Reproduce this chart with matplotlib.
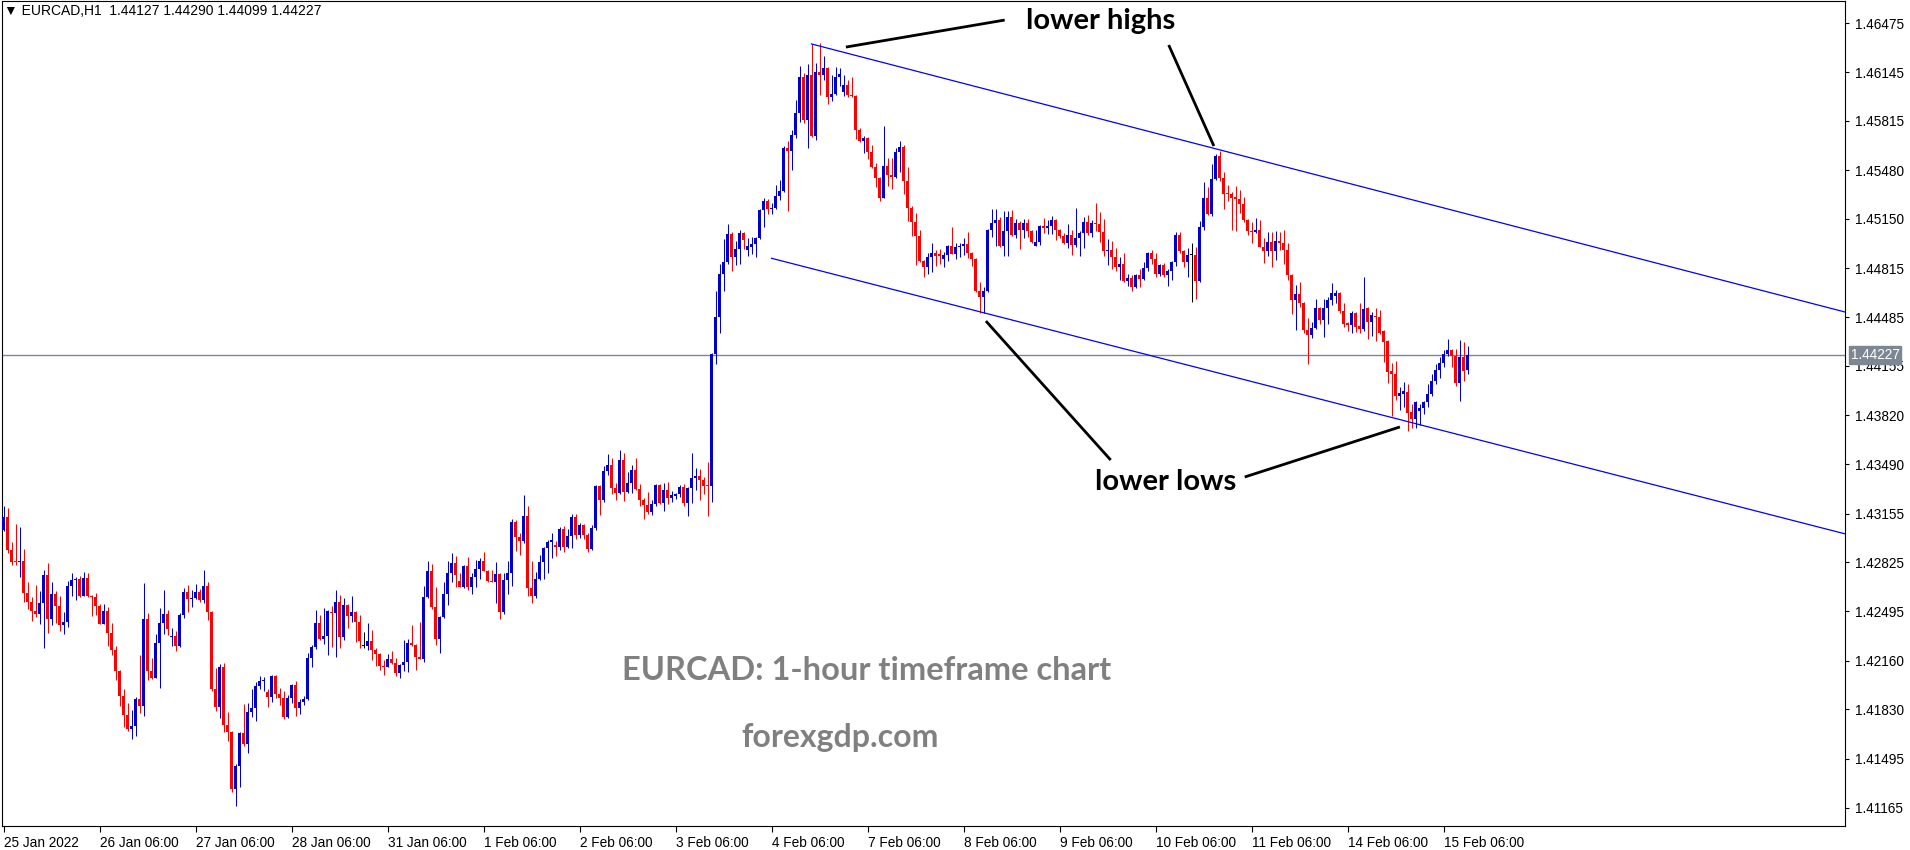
import matplotlib
matplotlib.use('Agg')
import matplotlib.pyplot as plt
import numpy as np

# EURCAD H1 candles, 25 Jan 2022 06:00 -> 15 Feb 2022 13:00
opens = [
    1.43045, 1.43135, 1.42909, 1.42835, 1.42828, 1.42832, 1.42620, 1.42559, 1.42498, 1.42478,
    1.42550, 1.42740, 1.42444, 1.42611, 1.42530, 1.42404, 1.42422, 1.42665, 1.42706, 1.42715,
    1.42600, 1.42722, 1.42600, 1.42593, 1.42532, 1.42410, 1.42496, 1.42349, 1.42234, 1.42092,
    1.41923, 1.41794, 1.41700, 1.41718, 1.41900, 1.41855, 1.42442, 1.42092, 1.42045, 1.42279,
    1.42415, 1.42476, 1.42320, 1.42327, 1.42259, 1.42469, 1.42625, 1.42577, 1.42584, 1.42625,
    1.42570, 1.42665, 1.42489, 1.41968, 1.41848, 1.42117, 1.41726, 1.41679, 1.41293, 1.41449,
    1.41672, 1.41598, 1.41814, 1.41842, 1.41990, 1.42024, 1.41950, 1.41916, 1.42058, 1.41936,
    1.41909, 1.41781, 1.41909, 1.41997, 1.41842, 1.41880, 1.41900, 1.42178, 1.42252, 1.42415,
    1.42309, 1.42327, 1.42490, 1.42482, 1.42557, 1.42322, 1.42536, 1.42464, 1.42489, 1.42424,
    1.42261, 1.42261, 1.42295, 1.42234, 1.42207, 1.42126, 1.42119, 1.42173, 1.42146, 1.42078,
    1.42133, 1.42153, 1.42282, 1.42268, 1.42187, 1.42173, 1.42591, 1.42767, 1.42525, 1.42309,
    1.42455, 1.42611, 1.42751, 1.42821, 1.42700, 1.42661, 1.42801, 1.42661, 1.42728, 1.42780,
    1.42834, 1.42769, 1.42701, 1.42694, 1.42749, 1.42491, 1.42706, 1.42755, 1.43098, 1.42997,
    1.42970, 1.43139, 1.42654, 1.42600, 1.42715, 1.42828, 1.42922, 1.42963, 1.42943, 1.42929,
    1.43053, 1.42929, 1.43004, 1.43132, 1.43010, 1.43078, 1.43010, 1.42916, 1.43058, 1.43342,
    1.43247, 1.43444, 1.43484, 1.43329, 1.43295, 1.43518, 1.43302, 1.43362, 1.43451, 1.43322,
    1.43247, 1.43213, 1.43166, 1.43220, 1.43349, 1.43227, 1.43315, 1.43261, 1.43275, 1.43285,
    1.43335, 1.43227, 1.43329, 1.43396, 1.43410, 1.43383, 1.43349, 1.43342, 1.44236, 1.44486,
    1.44778, 1.44859, 1.45048, 1.44893, 1.44947, 1.45055, 1.44942, 1.44962, 1.44983, 1.45023,
    1.45213, 1.45274, 1.45220, 1.45227, 1.45308, 1.45342, 1.45630, 1.45612, 1.45718, 1.45867,
    1.46111, 1.45820, 1.46125, 1.45714, 1.46145, 1.46125, 1.46172, 1.45976, 1.45996, 1.46111,
    1.46010, 1.46057, 1.45989, 1.45982, 1.45752, 1.45678, 1.45698, 1.45606, 1.45504, 1.45430,
    1.45294, 1.45511, 1.45450, 1.45436, 1.45603, 1.45637, 1.45409, 1.45226, 1.45132, 1.45037,
    1.44868, 1.44827, 1.44895, 1.44922, 1.44915, 1.44881, 1.44908, 1.44969, 1.44915, 1.44962,
    1.44969, 1.44983, 1.44922, 1.44881, 1.44665, 1.44624, 1.44665, 1.45078, 1.45125, 1.45145,
    1.44969, 1.45071, 1.45166, 1.45044, 1.45125, 1.45078, 1.45125, 1.45071, 1.44969, 1.44996,
    1.45102, 1.45089, 1.45102, 1.45143, 1.45075, 1.45035, 1.44987, 1.45041, 1.44974, 1.45021,
    1.45055, 1.45129, 1.45055, 1.45123, 1.45116, 1.45062, 1.44933, 1.44940, 1.44893, 1.44825,
    1.44845, 1.44730, 1.44750, 1.44689, 1.44771, 1.44744, 1.44818, 1.44920, 1.44879, 1.44777,
    1.44838, 1.44771, 1.44798, 1.44859, 1.45041, 1.44933, 1.44859, 1.44906, 1.44906, 1.44732,
    1.45096, 1.45292, 1.45184, 1.45421, 1.45576, 1.45427, 1.45326, 1.45319, 1.45299, 1.45285,
    1.45251, 1.45143, 1.45069, 1.45062, 1.45075, 1.44960, 1.44933, 1.44994, 1.44933, 1.45001,
    1.44987, 1.44940, 1.44773, 1.44604, 1.44644, 1.44583, 1.44401, 1.44367, 1.44414, 1.44549,
    1.44468, 1.44549, 1.44599, 1.44631, 1.44649, 1.44527, 1.44446, 1.44432, 1.44513, 1.44426,
    1.44405, 1.44547, 1.44452, 1.44493, 1.44486, 1.44391, 1.44324, 1.44121, 1.44100, 1.43954,
    1.43967, 1.43981, 1.43846, 1.43796, 1.43852, 1.43872, 1.43913, 1.43967, 1.44055, 1.44130,
    1.44177, 1.44238, 1.44265, 1.44224, 1.44042, 1.44218, 1.44127,
]
highs = [
    1.43207, 1.43193, 1.42963, 1.43085, 1.43065, 1.42916, 1.42692, 1.42593, 1.42672, 1.42632,
    1.42774, 1.42821, 1.42692, 1.42632, 1.42600, 1.42492, 1.42699, 1.42753, 1.42729, 1.42733,
    1.42760, 1.42753, 1.42604, 1.42618, 1.42545, 1.42544, 1.42523, 1.42413, 1.42259, 1.42097,
    1.41968, 1.41873, 1.41826, 1.41916, 1.42200, 1.42686, 1.42483, 1.42178, 1.42340, 1.42516,
    1.42638, 1.42503, 1.42381, 1.42361, 1.42482, 1.42652, 1.42672, 1.42638, 1.42679, 1.42645,
    1.42774, 1.42692, 1.42496, 1.42110, 1.42137, 1.42144, 1.41812, 1.41685, 1.41462, 1.41679,
    1.41869, 1.41875, 1.41970, 1.42018, 1.42058, 1.42051, 1.41970, 1.42065, 1.42065, 1.41977,
    1.41957, 1.41930, 1.42000, 1.42024, 1.41900, 1.41920, 1.42209, 1.42264, 1.42503, 1.42469,
    1.42516, 1.42503, 1.42530, 1.42638, 1.42604, 1.42584, 1.42543, 1.42597, 1.42495, 1.42469,
    1.42354, 1.42415, 1.42367, 1.42248, 1.42214, 1.42166, 1.42207, 1.42227, 1.42180, 1.42139,
    1.42302, 1.42309, 1.42403, 1.42275, 1.42424, 1.42665, 1.42834, 1.42814, 1.42658, 1.42460,
    1.42692, 1.42834, 1.42889, 1.42868, 1.42755, 1.42807, 1.42861, 1.42755, 1.42841, 1.42855,
    1.42895, 1.42775, 1.42775, 1.42828, 1.42755, 1.42755, 1.42837, 1.43119, 1.43112, 1.43024,
    1.43281, 1.43207, 1.42834, 1.42760, 1.42875, 1.42929, 1.42977, 1.43024, 1.42970, 1.43065,
    1.43071, 1.43051, 1.43153, 1.43153, 1.43092, 1.43085, 1.43024, 1.43078, 1.43349, 1.43349,
    1.43478, 1.43559, 1.43532, 1.43362, 1.43586, 1.43566, 1.43437, 1.43484, 1.43532, 1.43356,
    1.43261, 1.43302, 1.43247, 1.43356, 1.43356, 1.43362, 1.43369, 1.43308, 1.43295, 1.43349,
    1.43356, 1.43335, 1.43566, 1.43464, 1.43457, 1.43403, 1.43505, 1.44240, 1.44662, 1.44845,
    1.45014, 1.45116, 1.45062, 1.45001, 1.45075, 1.45064, 1.45023, 1.45030, 1.45030, 1.45220,
    1.45294, 1.45287, 1.45260, 1.45382, 1.45416, 1.45644, 1.45678, 1.45752, 1.45955, 1.46186,
    1.46138, 1.46199, 1.46334, 1.46206, 1.46341, 1.46253, 1.46179, 1.46125, 1.46179, 1.46172,
    1.46125, 1.46091, 1.46111, 1.45990, 1.45766, 1.45712, 1.45705, 1.45651, 1.45529, 1.45435,
    1.45779, 1.45565, 1.45565, 1.45633, 1.45678, 1.45651, 1.45502, 1.45238, 1.45190, 1.45078,
    1.44875, 1.44922, 1.44987, 1.44942, 1.44949, 1.44929, 1.44976, 1.45096, 1.44990, 1.44990,
    1.45024, 1.45064, 1.44929, 1.44888, 1.44726, 1.44692, 1.45084, 1.45220, 1.45220, 1.45166,
    1.45206, 1.45206, 1.45213, 1.45152, 1.45138, 1.45152, 1.45152, 1.45078, 1.45078, 1.45109,
    1.45157, 1.45143, 1.45170, 1.45150, 1.45082, 1.45055, 1.45116, 1.45075, 1.45224, 1.45068,
    1.45163, 1.45177, 1.45143, 1.45258, 1.45197, 1.45150, 1.45014, 1.45001, 1.44953, 1.44893,
    1.44919, 1.44777, 1.44771, 1.44777, 1.44811, 1.44859, 1.44926, 1.44940, 1.44919, 1.44845,
    1.44852, 1.44811, 1.44864, 1.45062, 1.45062, 1.44940, 1.44953, 1.44987, 1.44960, 1.45136,
    1.45400, 1.45366, 1.45522, 1.45590, 1.45610, 1.45468, 1.45380, 1.45333, 1.45373, 1.45346,
    1.45299, 1.45148, 1.45129, 1.45157, 1.45143, 1.45021, 1.45062, 1.45062, 1.45069, 1.45062,
    1.45075, 1.44987, 1.44777, 1.44705, 1.44726, 1.44590, 1.44482, 1.44455, 1.44610, 1.44556,
    1.44610, 1.44620, 1.44714, 1.44669, 1.44655, 1.44581, 1.44450, 1.44527, 1.44520, 1.44581,
    1.44757, 1.44554, 1.44520, 1.44547, 1.44534, 1.44395, 1.44328, 1.44175, 1.44189, 1.44015,
    1.44049, 1.44035, 1.43900, 1.43920, 1.43900, 1.43920, 1.44035, 1.44103, 1.44170, 1.44218,
    1.44265, 1.44340, 1.44270, 1.44270, 1.44331, 1.44319, 1.44290,
]
lows = [
    1.43040, 1.42891, 1.42810, 1.42810, 1.42729, 1.42559, 1.42512, 1.42431, 1.42458, 1.42410,
    1.42248, 1.42349, 1.42404, 1.42417, 1.42363, 1.42343, 1.42390, 1.42600, 1.42573, 1.42593,
    1.42595, 1.42589, 1.42465, 1.42471, 1.42405, 1.42405, 1.42261, 1.42200, 1.42031, 1.41855,
    1.41713, 1.41686, 1.41632, 1.41652, 1.41808, 1.41788, 1.42031, 1.42038, 1.42040, 1.41977,
    1.42340, 1.42333, 1.42259, 1.42225, 1.42255, 1.42449, 1.42489, 1.42523, 1.42577, 1.42557,
    1.42550, 1.42435, 1.41957, 1.41821, 1.41774, 1.41679, 1.41618, 1.41273, 1.41178, 1.41307,
    1.41584, 1.41537, 1.41781, 1.41753, 1.41970, 1.41957, 1.41848, 1.41882, 1.41909, 1.41862,
    1.41767, 1.41774, 1.41875, 1.41787, 1.41800, 1.41860, 1.41893, 1.42119, 1.42239, 1.42300,
    1.42275, 1.42200, 1.42254, 1.42187, 1.42248, 1.42302, 1.42383, 1.42424, 1.42288, 1.42248,
    1.42248, 1.42234, 1.42167, 1.42126, 1.42099, 1.42065, 1.42115, 1.42139, 1.42058, 1.42045,
    1.42092, 1.42085, 1.42261, 1.42099, 1.42170, 1.42153, 1.42586, 1.42512, 1.42268, 1.42214,
    1.42450, 1.42539, 1.42695, 1.42661, 1.42655, 1.42654, 1.42640, 1.42613, 1.42661, 1.42715,
    1.42765, 1.42695, 1.42690, 1.42552, 1.42444, 1.42478, 1.42613, 1.42667, 1.42902, 1.42875,
    1.42956, 1.42600, 1.42552, 1.42586, 1.42708, 1.42715, 1.42755, 1.42855, 1.42868, 1.42909,
    1.42895, 1.42922, 1.42922, 1.42983, 1.42990, 1.42983, 1.42895, 1.42910, 1.43044, 1.43146,
    1.43234, 1.43417, 1.43288, 1.43247, 1.43290, 1.43241, 1.43298, 1.43295, 1.43315, 1.43207,
    1.43119, 1.43153, 1.43146, 1.43207, 1.43220, 1.43173, 1.43220, 1.43234, 1.43254, 1.43268,
    1.43207, 1.43139, 1.43227, 1.43315, 1.43247, 1.43288, 1.43139, 1.43234, 1.44170, 1.44378,
    1.44662, 1.44845, 1.44798, 1.44838, 1.44845, 1.44949, 1.44902, 1.44915, 1.44895, 1.45016,
    1.45098, 1.45186, 1.45186, 1.45220, 1.45281, 1.45335, 1.45206, 1.45484, 1.45700, 1.45809,
    1.45797, 1.45633, 1.45705, 1.45687, 1.45989, 1.46091, 1.45928, 1.45949, 1.45989, 1.46050,
    1.45982, 1.45976, 1.45976, 1.45691, 1.45671, 1.45597, 1.45558, 1.45497, 1.45369, 1.45274,
    1.45290, 1.45375, 1.45355, 1.45430, 1.45468, 1.45321, 1.45138, 1.45037, 1.44841, 1.44861,
    1.44759, 1.44780, 1.44793, 1.44834, 1.44847, 1.44827, 1.44868, 1.44910, 1.44881, 1.44895,
    1.44908, 1.44888, 1.44834, 1.44658, 1.44516, 1.44516, 1.44658, 1.45030, 1.44969, 1.44962,
    1.44902, 1.44902, 1.45037, 1.45024, 1.44949, 1.45024, 1.45030, 1.44990, 1.44965, 1.44974,
    1.45055, 1.45048, 1.45048, 1.45008, 1.45021, 1.44981, 1.44953, 1.44906, 1.44960, 1.44899,
    1.44953, 1.45041, 1.45028, 1.45068, 1.44994, 1.44899, 1.44838, 1.44811, 1.44798, 1.44737,
    1.44723, 1.44696, 1.44662, 1.44685, 1.44689, 1.44740, 1.44798, 1.44845, 1.44757, 1.44764,
    1.44757, 1.44696, 1.44737, 1.44832, 1.44919, 1.44825, 1.44759, 1.44590, 1.44610, 1.44725,
    1.45075, 1.45177, 1.45170, 1.45416, 1.45407, 1.45218, 1.45272, 1.45076, 1.45069, 1.45190,
    1.45129, 1.45041, 1.44987, 1.45058, 1.44958, 1.44854, 1.44899, 1.44827, 1.44872, 1.44942,
    1.44845, 1.44739, 1.44509, 1.44401, 1.44556, 1.44380, 1.44170, 1.44346, 1.44407, 1.44441,
    1.44353, 1.44441, 1.44570, 1.44579, 1.44511, 1.44421, 1.44394, 1.44380, 1.44385, 1.44380,
    1.44394, 1.44337, 1.44358, 1.44326, 1.44371, 1.44184, 1.44037, 1.43818, 1.43927, 1.43859,
    1.43879, 1.43717, 1.43737, 1.43737, 1.43757, 1.43832, 1.43879, 1.43954, 1.44035, 1.44076,
    1.44150, 1.44224, 1.44150, 1.44022, 1.43920, 1.44055, 1.44099,
]
closes = [
    1.43135, 1.42909, 1.42830, 1.42828, 1.42832, 1.42620, 1.42559, 1.42498, 1.42478, 1.42550,
    1.42740, 1.42444, 1.42611, 1.42530, 1.42404, 1.42422, 1.42665, 1.42706, 1.42715, 1.42600,
    1.42722, 1.42600, 1.42593, 1.42532, 1.42410, 1.42496, 1.42349, 1.42234, 1.42092, 1.41923,
    1.41794, 1.41700, 1.41718, 1.41900, 1.41855, 1.42442, 1.42092, 1.42045, 1.42279, 1.42415,
    1.42476, 1.42374, 1.42327, 1.42259, 1.42469, 1.42625, 1.42577, 1.42584, 1.42625, 1.42570,
    1.42665, 1.42489, 1.41968, 1.41848, 1.42117, 1.41726, 1.41679, 1.41293, 1.41449, 1.41672,
    1.41598, 1.41814, 1.41842, 1.41990, 1.42024, 1.42031, 1.41916, 1.42058, 1.41936, 1.41909,
    1.41781, 1.41909, 1.41997, 1.41842, 1.41880, 1.41900, 1.42178, 1.42252, 1.42415, 1.42309,
    1.42327, 1.42496, 1.42482, 1.42557, 1.42322, 1.42536, 1.42464, 1.42489, 1.42424, 1.42295,
    1.42261, 1.42295, 1.42234, 1.42207, 1.42126, 1.42119, 1.42173, 1.42146, 1.42078, 1.42133,
    1.42153, 1.42282, 1.42268, 1.42187, 1.42173, 1.42591, 1.42767, 1.42525, 1.42309, 1.42455,
    1.42611, 1.42751, 1.42821, 1.42742, 1.42661, 1.42801, 1.42661, 1.42728, 1.42780, 1.42834,
    1.42769, 1.42701, 1.42694, 1.42749, 1.42491, 1.42706, 1.42755, 1.43098, 1.42997, 1.42970,
    1.43139, 1.42654, 1.42600, 1.42715, 1.42828, 1.42922, 1.42963, 1.42977, 1.42929, 1.43053,
    1.42929, 1.43004, 1.43132, 1.43010, 1.43078, 1.43010, 1.42916, 1.43058, 1.43342, 1.43247,
    1.43444, 1.43484, 1.43329, 1.43295, 1.43518, 1.43302, 1.43362, 1.43451, 1.43322, 1.43247,
    1.43213, 1.43166, 1.43220, 1.43349, 1.43227, 1.43315, 1.43261, 1.43281, 1.43285, 1.43335,
    1.43227, 1.43329, 1.43396, 1.43410, 1.43383, 1.43342, 1.43342, 1.44236, 1.44486, 1.44778,
    1.44859, 1.45048, 1.44893, 1.44947, 1.45055, 1.45010, 1.44969, 1.44983, 1.45023, 1.45213,
    1.45274, 1.45220, 1.45227, 1.45308, 1.45342, 1.45630, 1.45612, 1.45718, 1.45867, 1.46111,
    1.45820, 1.46125, 1.45714, 1.46145, 1.46125, 1.46172, 1.45976, 1.45996, 1.46111, 1.46131,
    1.46057, 1.45989, 1.45982, 1.45752, 1.45678, 1.45698, 1.45606, 1.45504, 1.45430, 1.45294,
    1.45511, 1.45450, 1.45436, 1.45603, 1.45637, 1.45409, 1.45226, 1.45132, 1.45037, 1.44868,
    1.44827, 1.44895, 1.44922, 1.44902, 1.44902, 1.44908, 1.44969, 1.44915, 1.44962, 1.44969,
    1.44983, 1.44922, 1.44881, 1.44665, 1.44624, 1.44665, 1.45078, 1.45125, 1.45145, 1.44969,
    1.45071, 1.45166, 1.45044, 1.45125, 1.45078, 1.45125, 1.45071, 1.44997, 1.44996, 1.45102,
    1.45089, 1.45102, 1.45143, 1.45075, 1.45035, 1.44987, 1.45041, 1.44974, 1.45021, 1.45055,
    1.45129, 1.45055, 1.45123, 1.45116, 1.45062, 1.44933, 1.44940, 1.44893, 1.44825, 1.44845,
    1.44730, 1.44750, 1.44689, 1.44771, 1.44744, 1.44818, 1.44920, 1.44879, 1.44777, 1.44838,
    1.44771, 1.44798, 1.44859, 1.45041, 1.44933, 1.44859, 1.44906, 1.44906, 1.44732, 1.45096,
    1.45292, 1.45184, 1.45421, 1.45576, 1.45427, 1.45319, 1.45319, 1.45292, 1.45285, 1.45251,
    1.45143, 1.45069, 1.45062, 1.45075, 1.44960, 1.44933, 1.44994, 1.44933, 1.45001, 1.44987,
    1.44940, 1.44773, 1.44604, 1.44644, 1.44583, 1.44401, 1.44367, 1.44414, 1.44549, 1.44468,
    1.44549, 1.44601, 1.44647, 1.44649, 1.44527, 1.44439, 1.44432, 1.44513, 1.44419, 1.44405,
    1.44540, 1.44452, 1.44500, 1.44486, 1.44378, 1.44317, 1.44114, 1.44100, 1.43954, 1.43974,
    1.43988, 1.43839, 1.43796, 1.43913, 1.43872, 1.43913, 1.43967, 1.44055, 1.44130, 1.44177,
    1.44238, 1.44265, 1.44224, 1.44042, 1.44218, 1.44123, 1.44227,
]

price_ticks = [1.46475, 1.46145, 1.45815, 1.45480, 1.45150, 1.44815, 1.44485, 1.44155,
               1.43820, 1.43490, 1.43155, 1.42825, 1.42495, 1.42160, 1.41830, 1.41495, 1.41165]
date_labels = ['25 Jan 2022', '26 Jan 06:00', '27 Jan 06:00', '28 Jan 06:00', '31 Jan 06:00',
               '1 Feb 06:00', '2 Feb 06:00', '3 Feb 06:00', '4 Feb 06:00', '7 Feb 06:00',
               '8 Feb 06:00', '9 Feb 06:00', '10 Feb 06:00', '11 Feb 06:00', '14 Feb 06:00',
               '15 Feb 06:00']
date_bars = [0, 24, 48, 72, 96, 120, 144, 168, 192, 216, 240, 264, 288, 312, 336, 360]
last_price = 1.44227

# trend channel (bar index, price)
upper_bars = [202, 460.4]
upper_prices = [1.46335, 1.44520]
lower_bars = [192, 460.4]
lower_prices = [1.44884, 1.43018]

BULL = '#0000cd'
BEAR = '#ff0000'
W, H = 1910, 850

fig = plt.figure(figsize=(W / 100, H / 100), dpi=100)
ax = fig.add_axes([2 / W, 24 / H, 1843 / W, 825 / H])

o = np.array(opens)
hi = np.array(highs)
lo = np.array(lows)
c = np.array(closes)
x = np.arange(len(c))

cols = np.where(c > o, BULL, np.where(c < o, BEAR, 'black'))
ax.vlines(x, lo, hi, colors=cols, linewidth=0.75, zorder=3)
body_h = np.maximum(np.abs(c - o), 6.8e-5)
ax.bar(x, body_h, bottom=np.minimum(o, c), width=0.75, color=cols,
       linewidth=0, zorder=4)

# bid line
ax.axhline(last_price, color='#7d8794', linewidth=1.0, zorder=2)

# channel
ax.plot(upper_bars, upper_prices, color='#0000ff', linewidth=0.9, zorder=5)
ax.plot(lower_bars, lower_prices, color='#0000ff', linewidth=0.9, zorder=5)

ax.set_xlim(-0.375, 460.375)
ax.set_ylim(1.41040, 1.46626)

# axes styling
for s in ax.spines.values():
    s.set_linewidth(0.8)
    s.set_color('black')
ax.yaxis.tick_right()
ax.set_yticks(price_ticks)
ax.set_yticklabels(['%.5f' % p for p in price_ticks])
ax.set_xticks(date_bars)
ax.set_xticklabels(date_labels)
for lbl in ax.get_xticklabels():
    lbl.set_horizontalalignment('left')
ax.tick_params(axis='y', direction='out', length=3, width=0.8, pad=4,
               labelsize=9.8, labelfontfamily='Liberation Sans')
ax.tick_params(axis='x', direction='out', length=4, width=0.8, pad=3,
               labelsize=9.8, labelfontfamily='Liberation Sans')

# bid label on the price scale
ax.annotate('%.5f' % last_price, xy=(1.0, last_price), xycoords=('axes fraction', 'data'),
            xytext=(4, 0), textcoords='offset points', ha='left', va='center',
            fontsize=9.8, family='Liberation Sans', color='white', zorder=10,
            annotation_clip=False,
            bbox=dict(boxstyle='square,pad=0.15', fc='#7d8794', ec='#7d8794'))

# header
fig.text(4 / W, 1 - 11 / H, '\u25bc EURCAD,H1  1.44127 1.44290 1.44099 1.44227',
         fontsize=10, va='center', ha='left', family=['Liberation Sans', 'DejaVu Sans'])

# annotations
fig.text(1101 / W, 1 - 21 / H, 'lower highs', fontsize=21, fontweight='bold',
         family='Lato', ha='center', va='center')
fig.text(1166 / W, 1 - 482 / H, 'lower lows', fontsize=21, fontweight='bold',
         family='Lato', ha='center', va='center')
fig.text(867 / W, 1 - 670 / H, 'EURCAD: 1-hour timeframe chart', fontsize=23.5,
         fontweight='bold', family='Lato', color='#808080', ha='center', va='center')
fig.text(840 / W, 1 - 737 / H, 'forexgdp.com', fontsize=23, fontweight='bold',
         family='Lato', color='#808080', ha='center', va='center')

pointer = dict(color='black', linewidth=2.0, solid_capstyle='butt', zorder=6)
ax.plot([250.3, 210.6], [1.46497, 1.46314], **pointer)
ax.plot([291.3, 302.6], [1.46328, 1.45644], **pointer)
ax.plot([276.8, 245.6], [1.43518, 1.44459], **pointer)
ax.plot([310.3, 349.1], [1.43403, 1.43742], **pointer)

fig.savefig('out.png', dpi=100, facecolor='white')
